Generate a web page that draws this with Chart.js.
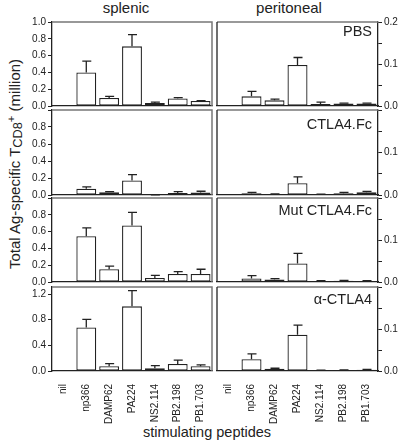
<!DOCTYPE html>
<html>
<head>
<meta charset="utf-8">
<script src="https://cdn.jsdelivr.net/npm/chart.js@4"></script>
<style>
  body { margin: 0; background: #fff; }
  #wrap { position: relative; width: 400px; height: 445px; overflow: hidden; font-family: Arial, "Liberation Sans", Helvetica, sans-serif; color: #222; }
  canvas { position: absolute; }
  .txt { position: absolute; line-height: 1; white-space: nowrap; }
  .panel { font-size: 14.5px; right: 28px; }
</style>
</head>
<body>
<div id="wrap">
  <div class="txt" style="font-size:15px; left:126px; top:0px; transform:translateX(-50%)">splenic</div>
  <div class="txt" style="font-size:15px; left:289px; top:0px; transform:translateX(-50%)">peritoneal</div>

  <div style="position:absolute; left:15px; top:164px; width:0; height:0">
    <div class="txt" style="font-size:15px; position:absolute; left:0; top:0; transform:translate(-50%,-50%) rotate(-90deg)">Total Ag-specific T<span style="font-size:0.85em; position:relative; top:2px">CD8</span><span style="font-size:0.75em; position:relative; top:-5px">+</span> (million)</div>
  </div>

  <div class="txt" style="font-size:14.5px; left:207px; top:425px; transform:translateX(-50%)">stimulating peptides</div>

  <canvas id="s1" width="214" height="100" style="left:0; top:14px"></canvas>
  <canvas id="p1" width="185" height="100" style="left:215px; top:14px"></canvas>
  <canvas id="s2" width="214" height="101" style="left:0; top:102px"></canvas>
  <canvas id="p2" width="185" height="101" style="left:215px; top:102px"></canvas>
  <canvas id="s3" width="214" height="100" style="left:0; top:190px"></canvas>
  <canvas id="p3" width="185" height="100" style="left:215px; top:190px"></canvas>
  <canvas id="s4" width="214" height="152" style="left:0; top:279px"></canvas>
  <canvas id="p4" width="185" height="152" style="left:215px; top:279px"></canvas>

  <div class="txt panel" style="top:24px">PBS</div>
  <div class="txt panel" style="top:117px">CTLA4.Fc</div>
  <div class="txt panel" style="top:203px">Mut CTLA4.Fc</div>
  <div class="txt panel" style="top:292px">α-CTLA4</div>
</div>
<script>
const peptides = ["nil", "np366", "DAMP62", "PA224", "NS2.114", "PB2.198", "PB1.703"];

// splenic (million)
const splenicPBS      = [0, 0.40, 0.095, 0.71, 0.035, 0.09, 0.06];
const splenicPBSErr   = [0, 0.135, 0.02, 0.14, 0.012, 0.01, 0.004];
const splenicFc       = [0, 0.075, 0.032, 0.17, 0.0, 0.024, 0.028];
const splenicFcErr    = [0, 0.02, 0.008, 0.07, 0.002, 0.016, 0.016];
const splenicMut      = [0, 0.545, 0.152, 0.672, 0.048, 0.096, 0.096];
const splenicMutErr   = [0, 0.10, 0.036, 0.156, 0.032, 0.028, 0.056];
const splenicAnti     = [0, 0.68, 0.073, 1.008, 0.042, 0.109, 0.073];
const splenicAntiErr  = [0, 0.125, 0.041, 0.247, 0.041, 0.062, 0.021];

// peritoneal (million)
const peritPBS     = [0, 0.023, 0.0135, 0.0975, 0.005, 0.006, 0.006];
const peritPBSErr  = [0, 0.012, 0.003, 0.018, 0.004, 0.001, 0.001];
const peritFc      = [0, 0.004, 0.0016, 0.0276, 0.001, 0.004, 0.0065];
const peritFcErr   = [0, 0.002, 0.001, 0.015, 0.001, 0.002, 0.002];
const peritMut     = [0, 0.0086, 0.006, 0.044, 0.002, 0.003, 0.002];
const peritMutErr  = [0, 0.0065, 0.002, 0.024, 0.001, 0.001, 0.001];
const peritAnti    = [0, 0.028, 0.0055, 0.0866, 0.0016, 0.0024, 0.003];
const peritAntiErr = [0, 0.013, 0.001, 0.0224, 0.0005, 0.0005, 0.0008];

const ink = "#222";
const font = { family: "Arial, 'Liberation Sans', Helvetica, sans-serif", size: 10 };

// upper error whiskers with a cap
const errorBars = {
  id: "errorBars",
  afterDatasetsDraw(chart, args, opts) {
    const ctx = chart.ctx;
    const y = chart.scales.y;
    const vals = chart.data.datasets[0].data;
    ctx.save();
    ctx.strokeStyle = ink;
    ctx.lineWidth = 1.3;
    chart.getDatasetMeta(0).data.forEach((bar, i) => {
      const e = opts.errors[i];
      if (!e) return;
      const y0 = y.getPixelForValue(vals[i]);
      const y1 = y.getPixelForValue(vals[i] + e);
      ctx.beginPath();
      ctx.moveTo(bar.x, y0);
      ctx.lineTo(bar.x, y1);
      ctx.moveTo(bar.x - 4, y1);
      ctx.lineTo(bar.x + 5, y1);
      ctx.stroke();
    });
    ctx.restore();
  }
};

// grey top/right frame, black left edge on right-hand panels
const frame = {
  id: "frame",
  afterDraw(chart, args, opts) {
    const { ctx, chartArea: a } = chart;
    ctx.save();
    ctx.lineWidth = 1.5;
    ctx.strokeStyle = "#777";
    ctx.beginPath();
    ctx.moveTo(a.left, a.top);
    ctx.lineTo(a.right, a.top);
    if (!opts.right) ctx.lineTo(a.right, a.bottom);
    ctx.stroke();
    if (opts.right) {
      ctx.strokeStyle = ink;
      ctx.lineWidth = 1.3;
      ctx.beginPath();
      ctx.moveTo(a.left, a.top);
      ctx.lineTo(a.left, a.bottom);
      ctx.stroke();
    }
    ctx.restore();
  }
};

function makePanel(id, values, errors, cfg) {
  const right = cfg.side === "right";
  new Chart(document.getElementById(id), {
    type: "bar",
    data: {
      labels: peptides,
      datasets: [{
        data: values,
        backgroundColor: "#fff",
        borderColor: ink,
        borderWidth: 1.3,
        borderSkipped: false,
        categoryPercentage: 1,
        barPercentage: 0.87
      }]
    },
    options: {
      responsive: false,
      animation: false,
      devicePixelRatio: 1,
      layout: { padding: { top: 8, bottom: cfg.bottom ? 0 : 8, left: right ? 2 : 0, right: right ? 0 : 2 } },
      plugins: {
        legend: { display: false },
        tooltip: { enabled: false },
        errorBars: { errors: errors },
        frame: { right: right }
      },
      scales: {
        x: {
          grid: { display: false },
          border: { display: true, color: ink, width: 1.3 },
          ticks: {
            display: !!cfg.bottom,
            font: font,
            color: ink,
            minRotation: 90,
            maxRotation: 90,
            padding: 5,
            autoSkip: false
          },
          afterFit: s => {
            s.height = cfg.bottom ? 60 : 0;
            s.paddingLeft = 0;
            s.paddingRight = 0;
          }
        },
        y: {
          position: right ? "right" : "left",
          min: 0,
          max: cfg.max,
          grid: { drawOnChartArea: false, drawTicks: true, tickLength: 4, color: ink, lineWidth: 1 },
          border: { display: true, color: ink, width: 1.3 },
          ticks: {
            stepSize: cfg.step,
            includeBounds: false,
            font: font,
            color: ink,
            padding: 2,
            callback: v => {
              const k = Math.round(v / cfg.step);
              if (k % cfg.every !== 0 || v > cfg.labelMax + 1e-9) return "";
              return v.toFixed(1);
            }
          },
          afterFit: s => {
            s.width = right ? 22 : 52;
            s.paddingTop = 0;
            s.paddingBottom = 0;
          }
        }
      }
    },
    plugins: [errorBars, frame]
  });
}

makePanel("s1", splenicPBS, splenicPBSErr, { max: 1.0, step: 0.1, every: 2, labelMax: 1.0 });
makePanel("s2", splenicFc, splenicFcErr, { max: 1.0, step: 0.1, every: 2, labelMax: 0.8 });
makePanel("s3", splenicMut, splenicMutErr, { max: 1.0, step: 0.1, every: 2, labelMax: 0.8 });
makePanel("s4", splenicAnti, splenicAntiErr, { max: 1.31, step: 0.2, every: 2, labelMax: 1.2, bottom: true });

makePanel("p1", peritPBS, peritPBSErr, { side: "right", max: 0.2, step: 0.05, every: 2, labelMax: 0.2 });
makePanel("p2", peritFc, peritFcErr, { side: "right", max: 0.2, step: 0.05, every: 2, labelMax: 0.1 });
makePanel("p3", peritMut, peritMutErr, { side: "right", max: 0.2, step: 0.05, every: 2, labelMax: 0.1 });
makePanel("p4", peritAnti, peritAntiErr, { side: "right", max: 0.2, step: 0.05, every: 2, labelMax: 0.1, bottom: true });
</script>
</body>
</html>
